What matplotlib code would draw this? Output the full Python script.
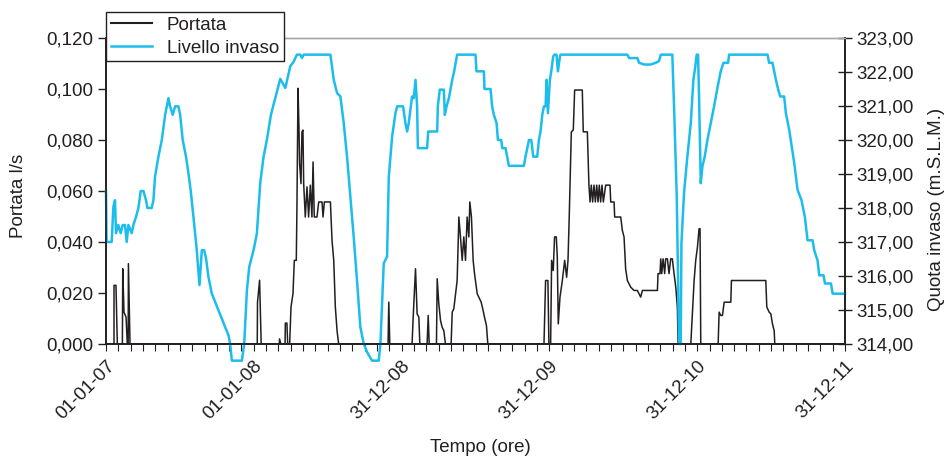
import matplotlib
matplotlib.use("Agg")
import matplotlib.pyplot as plt
from matplotlib.ticker import FixedLocator, MultipleLocator, FuncFormatter
from matplotlib.lines import Line2D

plt.rcParams["font.family"] = ["Liberation Sans", "DejaVu Sans"]

TXT = "#231F20"
BLUE = "#1CBDEC"

# time axis in months from 01-01-07
tick_months = [0, 12, 24, 36, 48, 60]
tick_labels = ["01-01-07", "01-01-08", "31-12-08", "31-12-09", "31-12-10", "31-12-11"]

# Livello invaso (m s.l.m.)
level_months = [
    0, 0.05, 0.46, 0.60, 0.73, 0.81, 1.0, 1.19, 1.36, 1.54, 1.68, 1.82, 2.09, 2.22, 2.44, 2.63,
    2.82, 3.04, 3.25, 3.36, 3.71, 3.85, 3.98, 4.25, 4.53, 4.80, 5.07, 5.20, 5.42, 5.61, 5.88, 6.02,
    6.23, 6.50, 6.69, 6.88, 7.10, 7.37, 7.59, 7.78, 7.97, 8.13, 8.32, 8.59, 8.86, 9.13, 9.40, 9.67,
    9.95, 10.08, 10.22, 11.03, 11.22, 11.44, 11.63, 11.98, 12.25, 12.52, 12.79, 13.06, 13.39, 13.74,
    14.15, 14.56, 14.96, 15.23, 15.5, 15.78, 15.91, 16.05, 18.22, 18.49, 18.76, 19.03, 19.3, 19.57,
    19.84, 20.11, 20.38, 20.65, 20.93, 21.2, 21.6, 22.14, 22.28, 22.55, 22.82, 22.96, 23.23, 23.5,
    23.64, 24.12, 24.31, 24.45, 24.58, 24.85, 24.99, 25.13, 25.26, 25.32, 26.07, 26.16, 26.89, 26.94,
    27.1, 27.43, 27.51, 27.65, 27.84, 28.11, 28.24, 28.51, 30.0, 30.08, 30.68, 30.73, 31.22, 31.35,
    31.49, 31.71, 31.82, 32.09, 32.17, 32.44, 32.57, 32.71, 33.93, 34.06, 34.34, 34.53, 34.69, 35.01,
    35.15, 35.28, 35.42, 35.56, 35.69, 35.77, 35.88, 36.04, 36.15, 36.31, 36.42, 36.58, 36.69, 36.86,
    36.91, 42.33, 42.47, 43.14, 43.28, 43.69, 44.22, 44.63, 44.9, 45.04, 45.98, 46.12, 46.34, 46.53,
    46.66, 46.72, 46.93, 47.2, 47.48, 47.69, 47.83, 47.96, 48.07, 48.15, 48.29, 48.42, 48.61, 48.83,
    49.1, 49.37, 49.64, 49.91, 50.13, 50.51, 50.59, 53.71, 53.84, 54.11, 54.39, 54.58, 54.74, 55.06,
    55.2, 55.47, 55.88, 56.15, 56.47, 56.74, 56.96, 57.37, 57.5, 57.77, 57.91, 58.26, 58.37, 58.86,
    59.0, 60.0,
]
level_values = [
    318.53, 317.0, 317.0, 318.04, 318.23, 317.26, 317.5, 317.26, 317.5, 317.5, 317.0, 317.5, 317.26, 317.5, 317.74, 318.0,
    318.5, 318.5, 318.23, 318.0, 318.0, 318.23, 318.92, 319.5, 320.0, 320.74, 321.23, 320.99, 320.74, 320.99, 320.99, 320.74,
    320.0, 319.5, 319.03, 318.5, 317.74, 316.76, 315.73, 316.76, 316.76, 316.5, 315.97, 315.48, 315.24, 314.99, 314.75, 314.5,
    314.25, 314.0, 313.51, 313.51, 314.0, 315.58, 316.27, 316.76, 317.25, 318.73, 319.5, 320.0, 320.74, 321.23,
    321.8, 321.53, 322.17, 322.3, 322.51, 322.51, 322.41, 322.51, 322.51, 321.77, 321.38, 321.28, 320.5, 319.51,
    318.33, 317.15, 315.87, 314.5, 314.0, 313.76, 313.51, 313.51, 314.0, 316.37, 316.57, 318.92, 320.1, 320.79,
    320.99, 320.99, 320.5, 320.25, 320.5, 321.28, 321.23, 321.77, 320.99, 319.76, 319.76, 320.25, 320.25, 320.99,
    321.48, 321.48, 320.74, 320.99, 321.23, 321.77, 321.97, 322.51, 322.51, 322.02, 322.02, 321.5, 321.5, 320.99,
    320.74, 320.5, 320.0, 320.0, 319.76, 319.76, 319.51, 319.24, 319.24, 319.51, 320.0, 320.0, 319.51, 319.51,
    320.0, 320.25, 320.74, 320.99, 320.99, 321.77, 320.79, 321.77, 322.02, 322.46, 322.51, 322.51, 322.02, 322.46,
    322.51, 322.51, 322.41, 322.41, 322.27, 322.22, 322.22, 322.27, 322.32, 322.51, 322.51, 320.99, 318.33, 314.0,
    314.0, 316.96, 318.43, 319.51, 320.5, 321.77, 322.12, 322.51, 322.51, 321.28, 318.73, 319.22, 319.51, 320.0,
    320.5, 320.99, 321.53, 322.02, 322.27, 322.27, 322.51, 322.51, 322.27, 322.27, 321.77, 321.48, 321.28, 321.28,
    320.79, 320.3, 319.32, 318.53, 318.23, 317.74, 317.05, 317.05, 316.76, 316.46, 316.02, 316.02, 315.78, 315.78,
    315.48, 315.48,
]

# Portata (l/s)
flow_months = [
    0, 0.65, 0.65, 0.81, 0.87, 0.92, 1.33, 1.36, 1.46, 1.63, 1.73, 1.80, 1.82, 1.95,
    12.28, 12.3, 12.47, 12.6, 14.07, 14.09, 14.2, 14.54, 14.56, 14.69, 14.75, 14.91, 15.02, 15.18,
    15.29, 15.45, 15.5, 15.59, 15.67, 15.72, 15.83, 15.91, 15.99, 16.05, 16.18, 16.32, 16.45, 16.59,
    16.72, 16.81, 16.91, 17.13, 17.27, 17.54, 17.62, 17.73, 18.22, 18.35, 18.49, 18.62, 18.76, 18.89,
    22.9, 22.96, 23.04, 24.85, 24.94, 25.13, 25.26, 25.4, 25.48, 26.07, 26.16, 26.24, 26.83, 26.89,
    27.02, 27.16, 27.29, 27.43, 27.56, 28.02, 28.11, 28.24, 28.38, 28.51, 28.65, 28.78, 28.92, 29.05,
    29.19, 29.32, 29.46, 29.54, 29.67, 29.81, 29.92, 30.14, 30.27, 30.46, 30.62, 30.73, 30.89, 31.0,
    35.56, 35.69, 35.88, 35.96, 36.1, 36.18, 36.31, 36.42, 36.56, 36.64, 36.72, 36.86, 37.05, 37.24,
    37.4, 37.51, 37.61, 37.78, 37.94, 38.05, 38.67, 38.75, 39.08, 39.21, 39.3, 39.4, 39.51, 39.62,
    39.73, 39.84, 39.95, 40.05, 40.16, 40.27, 40.38, 40.57, 40.92, 40.98, 41.25, 41.3, 41.79, 41.92,
    42.06, 42.19, 42.33, 42.6, 42.87, 43.14, 43.41, 43.55, 44.77, 44.82, 44.98, 45.04, 45.12, 45.23,
    45.36, 45.44, 45.58, 45.71, 45.85, 45.98, 46.12, 46.26, 46.39, 46.45, 47.48, 47.61, 47.75, 47.88,
    48.02, 48.15, 48.23, 48.29, 49.7, 49.78, 49.91, 50.05, 50.19, 50.73, 50.78, 53.57, 53.65, 53.84,
    53.98, 54.11, 54.25, 54.3, 60.0,
]
flow_values = [
    0, 0, 0.023, 0.023, 0.0105, 0, 0, 0.0295, 0.0125, 0.0105, 0, 0, 0.0315, 0,
    0, 0.0164, 0.025, 0, 0, 0.002, 0, 0, 0.0082, 0.0082, 0, 0, 0.0145, 0.0197,
    0.0328, 0.0328, 0.0525, 0.1003, 0.0839, 0.0708, 0.0629, 0.0832, 0.0839, 0.0629, 0.0498, 0.0616, 0.0498, 0.0623,
    0.0498, 0.0714, 0.0498, 0.0498, 0.0557, 0.0557, 0.0498, 0.0557, 0.0557, 0.0407, 0.0328, 0.0145, 0.0052, 0,
    0, 0.0164, 0, 0, 0.0105, 0.0295, 0.0118, 0.0105, 0, 0, 0.0112, 0, 0, 0.0256,
    0.0158, 0.0092, 0.0066, 0.0052, 0, 0, 0.0125, 0.0138, 0.0197, 0.0249, 0.0498, 0.042, 0.0328, 0.042,
    0.0328, 0.0498, 0.042, 0.0557, 0.0498, 0.0328, 0.0276, 0.0197, 0.0184, 0.0164, 0.0131, 0.0105, 0.0072, 0,
    0, 0.0249, 0.0249, 0, 0, 0.0328, 0.0288, 0.042, 0.042, 0.0341, 0.0079, 0.0184, 0.0249, 0.0328,
    0.0262, 0.0328, 0.0498, 0.0832, 0.0839, 0.0996, 0.0996, 0.0832, 0.0832, 0.0623, 0.0557, 0.0623, 0.0557, 0.0623,
    0.0557, 0.0623, 0.0557, 0.0623, 0.0557, 0.0623, 0.0557, 0.0623, 0.0623, 0.0557, 0.0557, 0.0498, 0.0498, 0.0446,
    0.042, 0.0295, 0.0249, 0.0223, 0.021, 0.021, 0.0184, 0.021, 0.021, 0.0276, 0.0276, 0.0334, 0.0276, 0.0334,
    0.0276, 0.0334, 0.0334, 0.0276, 0.0334, 0.0334, 0.0276, 0.0223, 0.0145, 0, 0, 0.0118, 0.0249, 0.0328,
    0.038, 0.0452, 0.0452, 0, 0, 0.0125, 0.0112, 0.0112, 0.0164, 0.0164, 0.0249, 0.0249, 0.0145, 0.0125,
    0.0118, 0.0079, 0.0052, 0, 0,
]

assert len(level_months) == len(level_values)
assert len(flow_months) == len(flow_values)

W, H = 951, 458
fig = plt.figure(figsize=(W / 100, H / 100), dpi=100)
ax = fig.add_axes([106 / W, 1 - 344 / H, (845 - 106) / W, (344 - 38) / H])
ax2 = ax.twinx()

ax.plot(flow_months, flow_values, color=TXT, lw=1.1, zorder=3)
ax2.plot(level_months, level_values, color=BLUE, lw=1.8, clip_on=False)

ax.set_xlim(0, 60)
ax.set_ylim(0, 0.12)
ax2.set_ylim(314, 323)

ax.xaxis.set_major_locator(FixedLocator(tick_months))
ax.xaxis.set_minor_locator(MultipleLocator(1))
ax.set_xticklabels(tick_labels, rotation=45, ha="right", rotation_mode="anchor")

ax.yaxis.set_major_locator(MultipleLocator(0.02))
ax.yaxis.set_major_formatter(FuncFormatter(lambda v, p: f"{v:.3f}".replace(".", ",")))
ax2.yaxis.set_major_locator(MultipleLocator(1))
ax2.yaxis.set_major_formatter(FuncFormatter(lambda v, p: f"{v:.2f}".replace(".", ",")))

fs = 13.5
ax.tick_params(axis="y", direction="out", length=6, width=1, colors=TXT, labelsize=fs, pad=3)
ax.tick_params(axis="x", which="both", direction="out", length=5, width=0.8, colors=TXT,
               labelsize=fs, pad=5)
ax2.tick_params(axis="y", direction="inout", length=10, width=1, colors=TXT, labelsize=fs, pad=3)

for a in (ax, ax2):
    for side in ("left", "right", "bottom"):
        a.spines[side].set_color(TXT)
        a.spines[side].set_linewidth(1.2)
    a.spines["top"].set_color("#A7A7A9")
    a.spines["top"].set_linewidth(1.0)

ax.set_ylabel("Portata l/s", fontsize=fs, color=TXT)
ax.yaxis.set_label_coords(-0.107, 0.484)
ax2.set_ylabel("Quota invaso (m.S.L.M.)", fontsize=fs, color=TXT)
ax2.yaxis.set_label_coords(1.112, 0.44)
fig.text(480 / W, 1 - 447 / H, "Tempo (ore)", fontsize=fs, color=TXT, ha="center", va="center")

handles = [Line2D([], [], color=TXT, lw=1.5), Line2D([], [], color=BLUE, lw=1.8)]
leg = fig.legend(handles, ["Portata", "Livello invaso"], loc="upper left",
                 bbox_to_anchor=(106 / W, 1 - 12 / H), bbox_transform=fig.transFigure,
                 fontsize=fs, frameon=True, fancybox=False, framealpha=1,
                 borderpad=0.25, labelspacing=0.3, handlelength=2.2, handletextpad=0.8,
                 borderaxespad=0)
leg.get_frame().set_edgecolor(TXT)
leg.get_frame().set_linewidth(1.0)
for t in leg.get_texts():
    t.set_color(TXT)

fig.savefig("out.png", dpi=100)
